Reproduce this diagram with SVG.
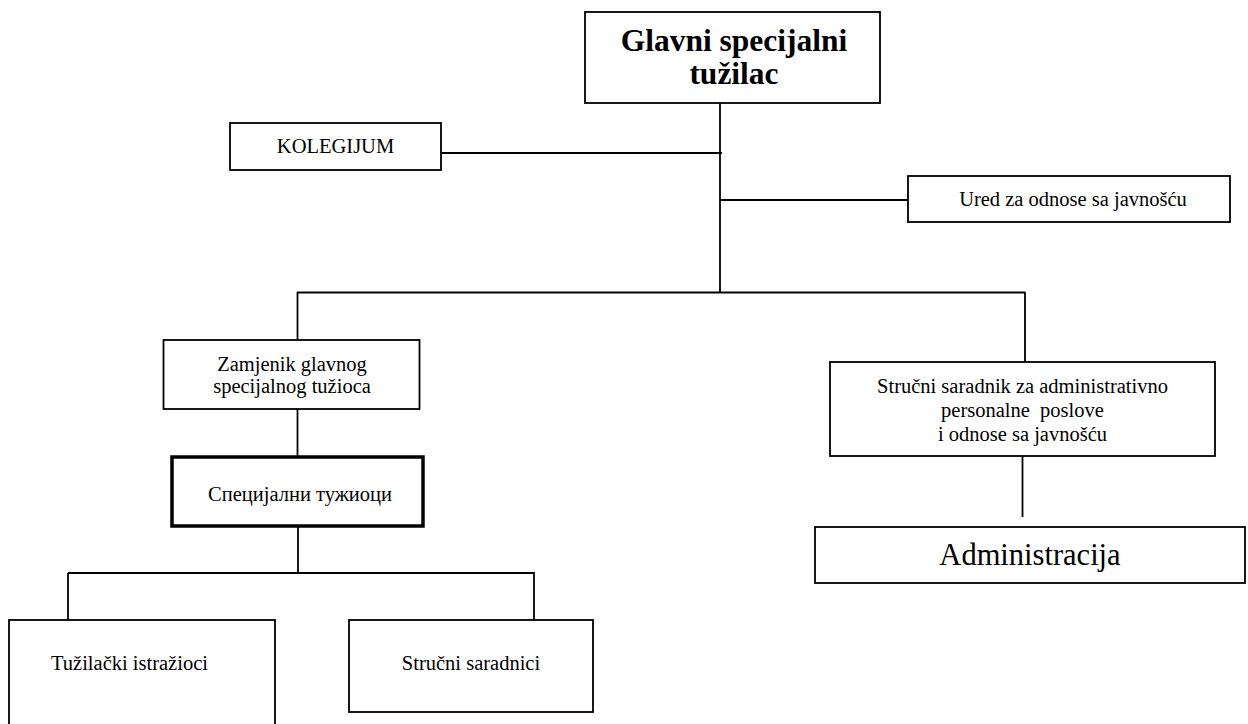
<svg xmlns="http://www.w3.org/2000/svg" width="1248" height="724" viewBox="0 0 1248 724" font-family="'Liberation Serif', 'DejaVu Serif', serif">
<style>
.box{fill:#fff;stroke:#000;stroke-width:1.8}
.thick{fill:#fff;stroke:#000;stroke-width:3.5}
.ln{stroke:#000;stroke-width:1.8;fill:none}
.t{font-family:'Liberation Serif','DejaVu Serif',serif;font-size:20.5px;fill:#000}
.c{text-anchor:middle}
.title{font-size:31.5px;font-weight:bold}
.big{font-size:30.5px}
</style>
<rect width="1248" height="724" fill="#fff"/>
<g id="connectors">
<line class="ln" x1="720" y1="103" x2="720" y2="293"/>
<line class="ln" x1="441" y1="153" x2="722" y2="153"/>
<line class="ln" x1="720" y1="200" x2="908" y2="200"/>
<line class="ln" x1="297" y1="292.5" x2="1025" y2="292.5"/>
<line class="ln" x1="297.5" y1="292" x2="297.5" y2="340"/>
<line class="ln" x1="1025" y1="292" x2="1025" y2="362"/>
<line class="ln" x1="297.5" y1="409" x2="297.5" y2="456"/>
<line class="ln" x1="298" y1="526" x2="298" y2="573"/>
<line class="ln" x1="68" y1="573" x2="535" y2="573"/>
<line class="ln" x1="68" y1="573" x2="68" y2="620"/>
<line class="ln" x1="534" y1="573" x2="534" y2="620"/>
<line class="ln" x1="1022.5" y1="456" x2="1022.5" y2="517"/>
</g>
<g id="glavni">
<rect class="box" x="585" y="12" width="295" height="91"/>
<text class="t c title" x="734" y="51">Glavni specijalni</text>
<text class="t c title" x="734" y="84">tužilac</text>
</g>
<g id="kolegijum">
<rect class="box" x="230" y="123" width="211" height="47"/>
<text class="t c" x="335.5" y="153">KOLEGIJUM</text>
</g>
<g id="ured">
<rect class="box" x="908" y="176" width="322" height="46"/>
<text class="t c" x="1073" y="206">Ured za odnose sa javnošću</text>
</g>
<g id="zamjenik">
<rect class="box" x="163.5" y="340" width="256" height="69"/>
<text class="t c" x="292" y="371">Zamjenik glavnog</text>
<text class="t c" x="292" y="393">specijalnog tužioca</text>
</g>
<g id="specijalni">
<rect class="thick" x="172" y="457" width="251" height="69"/>
<text class="t c" x="300" y="501">Специјални тужиоци</text>
</g>
<g id="istrazioci">
<rect class="box" x="9" y="620" width="266" height="110"/>
<text class="t" x="51" y="670">Tužilački istražioci</text>
</g>
<g id="saradnici">
<rect class="box" x="349" y="620" width="244" height="92"/>
<text class="t c" x="471" y="670">Stručni saradnici</text>
</g>
<g id="strucni-saradnik">
<rect class="box" x="830" y="362" width="385" height="94"/>
<text class="t c" x="1022.5" y="393">Stručni saradnik za administrativno</text>
<text class="t c" x="1022.5" y="417" xml:space="preserve">personalne  poslove</text>
<text class="t c" x="1022.5" y="441">i odnose sa javnošću</text>
</g>
<g id="administracija">
<rect class="box" x="815" y="527" width="430" height="56"/>
<text class="t c big" x="1030" y="565">Administracija</text>
</g>
</svg>
